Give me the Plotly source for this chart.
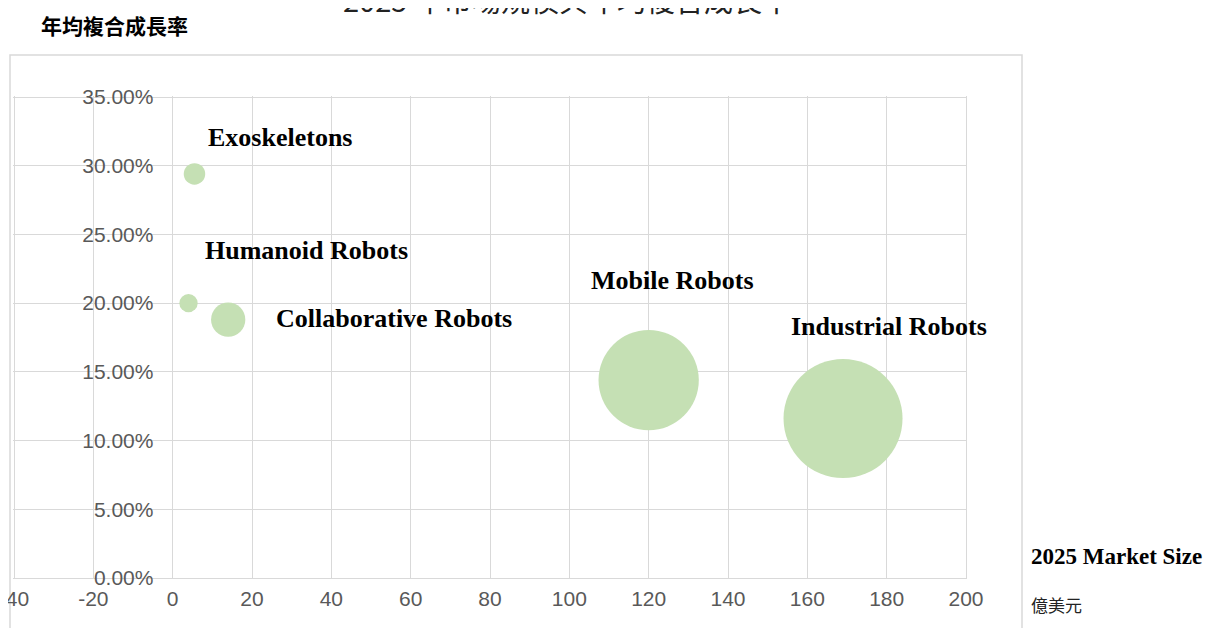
import plotly.graph_objects as go

# ---- data ----
categories = ["Exoskeletons", "Humanoid Robots", "Collaborative Robots", "Mobile Robots", "Industrial Robots"]
market_size = [5.5, 4.0, 14.0, 120.0, 169.0]       # 2025 market size (億美元)
cagr = [0.294, 0.200, 0.188, 0.144, 0.116]          # CAGR
x_ticks = [-40, -20, 0, 20, 40, 60, 80, 100, 120, 140, 160, 180, 200]
y_ticks = [0, 0.05, 0.10, 0.15, 0.20, 0.25, 0.30, 0.35]

# label offsets in px (style)
label_dx = [12, 14, 46, -60, -54]
label_dy = [36, 53, 1, 100, 92]

W, H = 1218, 628
OFF = 8  # page body margin
px_x = lambda p: (p - OFF) / W
px_y = lambda p: 1 - (p - OFF) / H

# target page pixels for axis ends
x_left, x_right = 14, 966      # -40 .. 200
y_top, y_bot = 97, 578         # 35% .. 0%
xmin, xmax = -40, 200
ymin, ymax = 0.0, 0.35
ppx = (x_right - x_left) / (xmax - xmin)
ppy = (y_bot - y_top) / (ymax - ymin)
padx, pady = 0.3, 0.0008       # tiny padding so edge gridlines are drawn
dom_x = [px_x(x_left - padx * ppx), px_x(x_right + padx * ppx)]
dom_y = [px_y(y_bot + pady * ppy), px_y(y_top - pady * ppy)]
y_axis_pos = px_x(x_left + (0 - xmin) * ppx)

max_d = 119
sizeref = 2 * max(market_size) / (max_d ** 2)

fig = go.Figure()
fig.add_trace(go.Scatter(
    x=market_size, y=cagr, mode="markers",
    marker=dict(size=market_size, sizemode="area", sizeref=sizeref,
                color="#C5E0B4", opacity=1, line=dict(width=0)),
    hoverinfo="skip", showlegend=False, cliponaxis=False,
))

tick_font = dict(family="Liberation Sans Narrow, Arial Narrow, Liberation Sans, sans-serif", size=21, color="#595959")

fig.update_layout(
    width=W, height=H,
    margin=dict(l=0, r=0, t=0, b=0, autoexpand=False),
    paper_bgcolor="white", plot_bgcolor="white",
    xaxis=dict(domain=dom_x, range=[xmin - padx, xmax + padx],
               tickmode="array", tickvals=x_ticks, ticktext=[str(v) for v in x_ticks],
               showgrid=True, gridcolor="#D9D9D9", gridwidth=1, zeroline=False,
               ticks="outside", ticklen=1, tickcolor="rgba(0,0,0,0)",
               tickfont=tick_font, showline=False, automargin=False,
               ticklabeloverflow="allow"),
    yaxis=dict(domain=dom_y, range=[ymin - pady, ymax + pady],
               anchor="free", position=y_axis_pos,
               tickmode="array", tickvals=y_ticks, tickformat=".2%",
               showgrid=True, gridcolor="#D9D9D9", gridwidth=1, zeroline=False,
               ticks="outside", ticklen=15, tickcolor="rgba(0,0,0,0)",
               tickfont=tick_font, showline=False, automargin=False,
               ticklabeloverflow="allow"),
)

# chart area frame
fig.add_shape(type="rect", xref="paper", yref="paper",
              x0=px_x(10), x1=px_x(1022), y0=-0.1, y1=px_y(55),
              line=dict(color="#D9D9D9", width=1.5), fillcolor="rgba(0,0,0,0)", layer="below")

label_font = dict(family="Liberation Serif, Times New Roman, serif", size=26, color="black")
# bubble labels
for name, xv, yv, dx, dy in zip(categories, market_size, cagr, label_dx, label_dy):
    fig.add_annotation(x=xv, y=yv, text=f"<b>{name}</b>", showarrow=False,
                       xanchor="left", yanchor="middle", xshift=dx, yshift=dy,
                       font=label_font)

# title (cut at top, as in the reference)
fig.add_annotation(xref="paper", yref="paper", x=px_x(567), y=px_y(22),
                   text="2025 年市場規模與年均複合成長率", showarrow=False,
                   xanchor="center", yanchor="bottom",
                   font=dict(family="Noto Sans CJK TC", size=29, color="#222222"))

# y axis title
fig.add_annotation(xref="paper", yref="paper", x=px_x(39), y=px_y(25),
                   text="<b>年均複合成長率</b>", showarrow=False,
                   xanchor="left", yanchor="middle",
                   font=dict(family="Noto Sans CJK TC", size=21, color="black"))

# x axis title
fig.add_annotation(xref="paper", yref="paper", x=px_x(1029), y=px_y(556),
                   text="<b>2025 Market Size</b>", showarrow=False,
                   xanchor="left", yanchor="middle",
                   font=dict(family="Liberation Serif, Times New Roman, serif", size=23, color="black"))
fig.add_annotation(xref="paper", yref="paper", x=px_x(1029), y=px_y(604),
                   text="億美元", showarrow=False,
                   xanchor="left", yanchor="middle",
                   font=dict(family="Noto Sans CJK TC", size=17, color="#222222"))

fig.write_html("out.html")
